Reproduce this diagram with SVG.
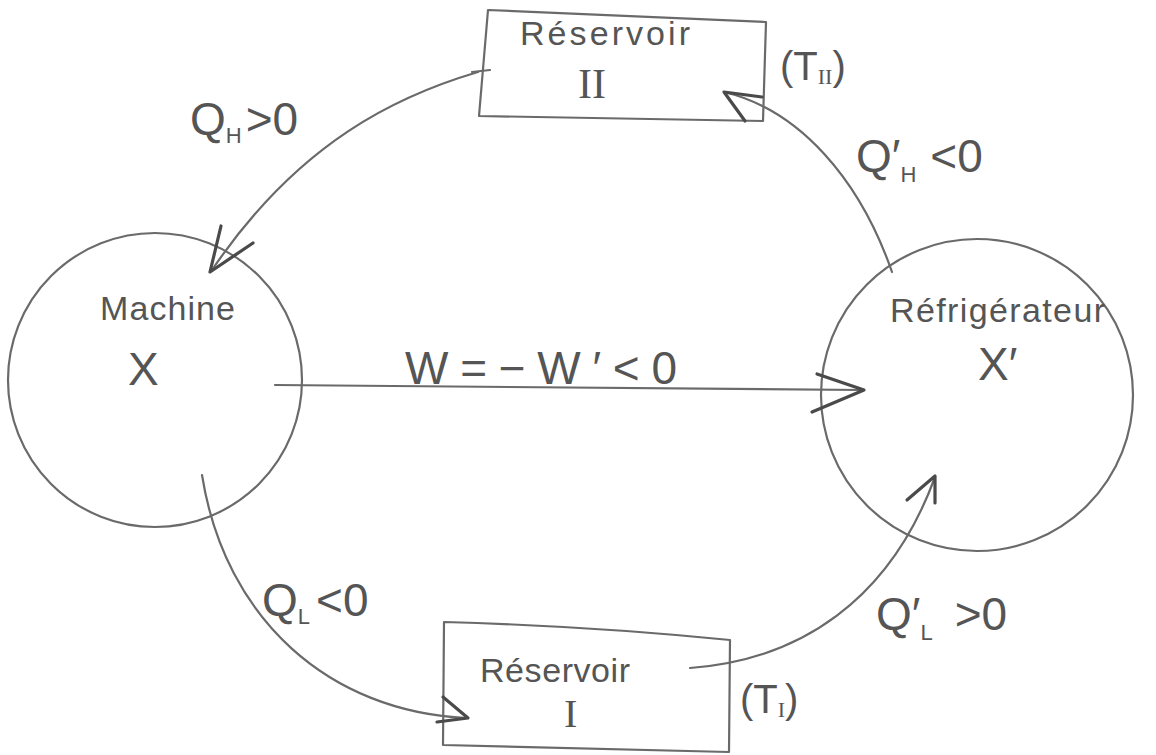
<svg xmlns="http://www.w3.org/2000/svg" width="1156" height="755" viewBox="0 0 1156 755">
  <style>
    .ink { fill: none; stroke: #6a6a6a; stroke-width: 2.2; stroke-linecap: round; stroke-linejoin: round; }
    .head { fill: none; stroke: #4a4a4a; stroke-width: 3.2; stroke-linecap: round; stroke-linejoin: round; }
    .lbl { font-family: "Liberation Sans", "DejaVu Sans", sans-serif; fill: #555; font-weight: 300; }
    .roman { font-family: "Liberation Serif", "DejaVu Serif", serif; }
    .big { font-size: 46px; }
    .mid { font-size: 34px; }
    .sub { font-size: 22px; }
  </style>
  <rect width="1156" height="755" fill="#ffffff"/>

  <!-- heat engine -->
  <g id="machine">
    <circle class="ink" cx="155" cy="380" r="147"/>
    <text class="lbl mid" x="100" y="320" textLength="135">Machine</text>
    <text class="lbl big" x="128" y="385" font-size="52">X</text>
  </g>

  <!-- refrigerator -->
  <g id="refrigerateur">
    <circle class="ink" cx="977" cy="395" r="156"/>
    <text class="lbl mid" x="890" y="322" textLength="215">Réfrigérateur</text>
    <text class="lbl big" x="978" y="380" font-size="52">X′</text>
  </g>

  <!-- hot reservoir -->
  <g id="reservoir-2">
    <path class="ink" d="M488 10 L766 22 L763 121 L479 116 Z"/>
    <path class="ink" d="M472 72 L490 70"/>
    <text class="lbl mid" x="520" y="45" textLength="170">Réservoir</text>
    <text class="lbl roman" x="578" y="98" font-size="42">II</text>
    <text class="lbl" x="780" y="80" font-size="40">(T<tspan class="roman sub" dy="4">II</tspan><tspan dy="-4">)</tspan></text>
  </g>

  <!-- cold reservoir -->
  <g id="reservoir-1">
    <path class="ink" d="M444 622 Q590 626 730 640 L729 752 L443 745 Z"/>
    <text class="lbl mid" x="480" y="682" textLength="150">Réservoir</text>
    <text class="lbl roman" x="564" y="727" font-size="40">I</text>
    <text class="lbl" x="740" y="713" font-size="40">(T<tspan class="roman sub" dy="4">I</tspan><tspan dy="-4">)</tspan></text>
  </g>

  <!-- heat and work flows -->
  <g id="connectors">
    <!-- Q_H : reservoir II to machine -->
    <path class="ink" d="M478 72 C400 95 300 140 212 270"/>
    <polyline class="head" points="221,226 210,272 253,243"/>
    <!-- W : machine to refrigerator -->
    <path class="ink" d="M275 385 C450 388 650 389 863 390"/>
    <polyline class="head" points="817,374 864,390 812,412"/>
    <!-- Q'_H : refrigerator to reservoir II -->
    <path class="ink" d="M892 272 C860 180 800 110 724 92"/>
    <polyline class="head" points="762,97 724,92 745,121"/>
    <!-- Q_L : machine to reservoir I -->
    <path class="ink" d="M202 475 C225 620 330 712 467 718"/>
    <polyline class="head" points="443,697 468,718 437,722"/>
    <!-- Q'_L : reservoir I to refrigerator -->
    <path class="ink" d="M690 668 C800 660 890 600 935 477"/>
    <polyline class="head" points="907,500 935,476 935,503"/>
  </g>

  <!-- flow labels -->
  <g id="labels">
    <text class="lbl big" x="190" y="135">Q<tspan class="sub" dy="8">H</tspan><tspan dy="-8" dx="4">&gt;0</tspan></text>
    <text class="lbl big" x="856" y="172">Q′<tspan class="sub" dy="10">H</tspan><tspan dy="-10" dx="14">&lt;0</tspan></text>
    <text class="lbl big" x="405" y="384" textLength="272">W=−W′&lt;0</text>
    <text class="lbl big" x="262" y="616">Q<tspan class="sub" dy="8">L</tspan><tspan dy="-8" dx="6">&lt;0</tspan></text>
    <text class="lbl big" x="876" y="630">Q′<tspan class="sub" dy="10">L</tspan><tspan dy="-10" dx="22">&gt;0</tspan></text>
  </g>
</svg>
